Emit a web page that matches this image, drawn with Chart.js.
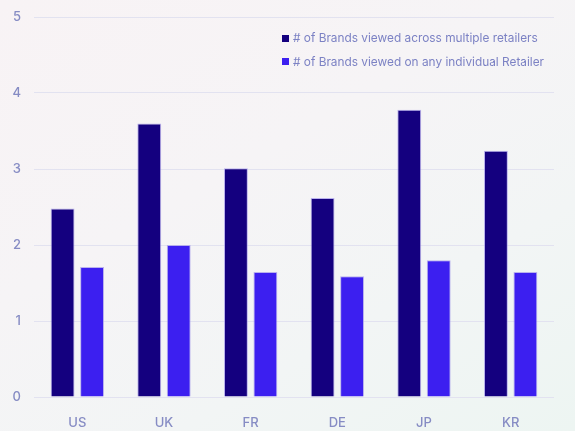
<!DOCTYPE html>
<html>
<head>
<meta charset="utf-8">
<script src="https://cdn.jsdelivr.net/npm/chart.js@4.4.1/dist/chart.umd.min.js"></script>
<style>
  html, body { margin: 0; padding: 0; }
  body {
    width: 575px; height: 431px; overflow: hidden; position: relative;
    background: linear-gradient(150deg, #f8f3f5 0%, #f6f4f6 40%, #f2f5f5 70%, #edf5f2 100%);
    font-family: Inter, "Noto Sans", sans-serif;
  }
  #wrap { position: absolute; left: 0; top: 0; width: 575px; height: 431px; }
  #legend { position: absolute; left: 282px; top: 30px; font-size: 11.85px; color: #7c82c4; }
  .item { display: flex; align-items: center; height: 16px; margin-bottom: 7.5px; white-space: nowrap; }
  .box { width: 7px; height: 7px; margin-right: 4px; }
</style>
</head>
<body>
<div id="wrap"><canvas id="c" width="575" height="431"></canvas></div>
<div id="legend"></div>
<script>
const categories = ["US", "UK", "FR", "DE", "JP", "KR"];
const seriesNames = ["# of Brands viewed across multiple retailers", "# of Brands viewed on any individual Retailer"];
const multipleRetailers = [2.48, 3.60, 3.01, 2.62, 3.78, 3.24];
const individualRetailer = [1.71, 2.00, 1.645, 1.59, 1.80, 1.645];
const yTicks = [0, 1, 2, 3, 4, 5];
const colors = ["#14007f", "#3c1ff0"];

const datasets = [multipleRetailers, individualRetailer].map((d, i) => ({
  label: seriesNames[i],
  data: d,
  backgroundColor: colors[i],
  borderColor: "rgba(165,155,235,0.75)",
  borderWidth: 1,
  categoryPercentage: 0.68,
  barPercentage: 0.81
}));

const legend = document.getElementById("legend");
seriesNames.forEach((n, i) => {
  const it = document.createElement("div");
  it.className = "item";
  const b = document.createElement("span");
  b.className = "box";
  b.style.background = colors[i];
  const t = document.createElement("span");
  t.textContent = n;
  it.appendChild(b); it.appendChild(t);
  legend.appendChild(it);
});

new Chart(document.getElementById("c"), {
  type: "bar",
  data: { labels: categories, datasets },
  options: {
    responsive: false,
    animation: false,
    layout: { padding: { top: 0, right: 21, left: 0, bottom: 0 } },
    plugins: { legend: { display: false }, tooltip: { enabled: false } },
    scales: {
      x: {
        grid: { display: false },
        border: { display: false },
        ticks: { color: "#868cc4", font: { family: "Inter", size: 13, weight: 500 }, padding: 10 },
        afterFit: (s) => { s.height = 34; }
      },
      y: {
        min: 0, max: 5,
        afterBuildTicks: (s) => { s.ticks = yTicks.map(v => ({ value: v })); },
        grid: { color: "#e2e2f0", drawTicks: false, lineWidth: 1 },
        border: { display: false },
        ticks: { color: "#868cc4", font: { family: "Inter", size: 13, weight: 500 }, padding: 13 },
        afterFit: (s) => { s.width = 34; s.paddingTop = 17; s.paddingBottom = 0; }
      }
    }
  }
});
</script>
</body>
</html>
